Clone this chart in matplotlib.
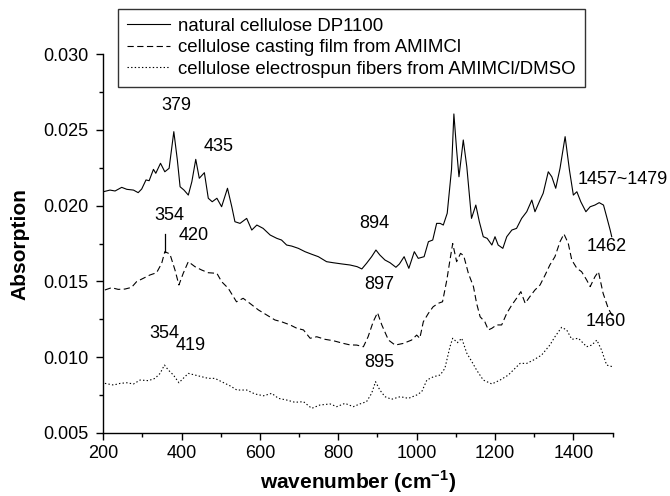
import matplotlib
matplotlib.use('Agg')
import matplotlib.pyplot as plt
from matplotlib.ticker import MultipleLocator, FormatStrFormatter

plt.rcParams['font.family'] = ['Liberation Sans', 'DejaVu Sans']
plt.rcParams['mathtext.fontset'] = 'custom'
plt.rcParams['mathtext.rm'] = 'Liberation Sans'
plt.rcParams['mathtext.bf'] = 'Liberation Sans:bold'
plt.rcParams['lines.scale_dashes'] = False

# natural cellulose DP1100
nat_x = [200, 217, 230, 247, 260, 277, 289, 298, 309, 317, 328, 334, 346, 357, 368, 380,
         389, 396, 406, 417, 426, 436, 445, 458, 468, 478, 490, 502, 517, 528, 536, 549,
         566, 579, 592, 608, 626, 643, 655, 668, 681, 698, 715, 732, 749, 770, 787, 809,
         830, 848, 860, 872, 885, 896, 906, 919, 932, 947, 956, 968, 980, 994, 1004, 1019,
         1030, 1041, 1051, 1060, 1068, 1078, 1089, 1095, 1102, 1108, 1119, 1128, 1140, 1151,
         1160, 1170, 1180, 1192, 1200, 1208, 1220, 1230, 1243, 1255, 1268, 1281, 1294, 1302,
         1315, 1323, 1336, 1345, 1355, 1366, 1379, 1390, 1400, 1409, 1419, 1432, 1443, 1455,
         1466, 1477, 1485, 1494, 1498]
nat_y = [0.02092, 0.02103, 0.02097, 0.02121, 0.02108, 0.02103, 0.02086, 0.0211, 0.0217,
         0.02165, 0.0224, 0.02214, 0.0228, 0.02224, 0.02247, 0.02489, 0.02302, 0.02125,
         0.02103, 0.0207, 0.02158, 0.02306, 0.02181, 0.02218, 0.02049, 0.02026, 0.02049,
         0.01993, 0.02115, 0.01993, 0.01894, 0.01883, 0.01916, 0.01839, 0.01872, 0.0185,
         0.01806, 0.01784, 0.01773, 0.0174, 0.01733, 0.01718, 0.01696, 0.01679, 0.01663,
         0.0163, 0.01623, 0.01615, 0.01608, 0.01597, 0.01582, 0.01619, 0.01663, 0.01707,
         0.01674, 0.01641, 0.01623, 0.01593, 0.01615, 0.01663, 0.01586, 0.01696, 0.01652,
         0.01663, 0.01762, 0.01773, 0.01883, 0.01883, 0.01872, 0.0195, 0.0224, 0.02606,
         0.02368, 0.02191, 0.02434, 0.02257, 0.01916, 0.02004, 0.01894, 0.01795, 0.01784,
         0.0174, 0.01795, 0.0174, 0.01718, 0.01795, 0.01839, 0.0185, 0.01916, 0.0196,
         0.02037, 0.0196, 0.02037, 0.02082, 0.02224, 0.02191, 0.02115, 0.02247, 0.02456,
         0.02236, 0.0207, 0.02092, 0.02026, 0.0196, 0.01993, 0.02004, 0.0202, 0.02004,
         0.01927, 0.01839, 0.01795]

# cellulose casting film from AMIMCl
film_x = [204, 221, 238, 255, 272, 285, 302, 319, 336, 349, 357, 370, 383, 393, 404, 417,
          434, 451, 468, 490, 502, 519, 540, 557, 574, 596, 617, 638, 655, 677, 694, 711,
          728, 745, 766, 787, 813, 830, 847, 864, 876, 889, 900, 911, 928, 945, 966, 987,
          1000, 1008, 1017, 1030, 1042, 1055, 1066, 1077, 1085, 1092, 1102, 1112, 1120, 1132,
          1145, 1153, 1162, 1174, 1183, 1192, 1204, 1217, 1230, 1243, 1255, 1266, 1277, 1289,
          1302, 1315, 1328, 1340, 1353, 1366, 1376, 1387, 1396, 1409, 1421, 1434, 1443, 1455,
          1464, 1476, 1489, 1500]
film_y = [0.01443, 0.01458, 0.01447, 0.01449, 0.0146, 0.01498, 0.0152, 0.01542, 0.01557,
          0.01619, 0.01696, 0.01681, 0.01575, 0.01476, 0.01553, 0.0163, 0.01597, 0.01575,
          0.01557, 0.01553, 0.01498, 0.01454, 0.01365, 0.01388, 0.01355, 0.01311, 0.01278,
          0.01245, 0.01233, 0.01212, 0.0119, 0.01179, 0.01124, 0.01134, 0.01117, 0.01108,
          0.0109, 0.0108, 0.01079, 0.01068, 0.01134, 0.01233, 0.01293, 0.01212, 0.01112,
          0.01079, 0.0109, 0.01112, 0.01145, 0.01124, 0.01233, 0.01289, 0.01332, 0.01355,
          0.01365, 0.01509, 0.01641, 0.0175, 0.0163, 0.01685, 0.0167, 0.01553, 0.01465,
          0.01355, 0.01266, 0.01233, 0.01179, 0.0119, 0.01212, 0.01212, 0.01289, 0.01344,
          0.01388, 0.01432, 0.01355, 0.01399, 0.01443, 0.01476, 0.01542, 0.01608, 0.01663,
          0.01762, 0.01813, 0.01751, 0.01641, 0.01586, 0.01564, 0.01509, 0.01465, 0.0153,
          0.01564, 0.01421, 0.01322, 0.0127]

# cellulose electrospun fibers from AMIMCl/DMSO
fiber_x = [204, 226, 243, 260, 277, 294, 315, 332, 345, 356, 366, 379, 393, 404, 417, 434,
           451, 468, 485, 502, 524, 541, 566, 587, 609, 630, 647, 668, 689, 711, 732, 753,
           779, 796, 817, 838, 855, 872, 885, 895, 906, 919, 936, 958, 979, 1000, 1013, 1026,
           1043, 1060, 1072, 1085, 1092, 1104, 1115, 1128, 1141, 1153, 1170, 1192, 1213, 1234,
           1251, 1264, 1281, 1298, 1319, 1340, 1353, 1370, 1383, 1396, 1413, 1434, 1447, 1460,
           1472, 1485, 1500]
fiber_y = [0.00826, 0.00815, 0.00826, 0.0083, 0.00822, 0.00848, 0.00844, 0.00859, 0.00892,
           0.00947, 0.00914, 0.00881, 0.0083, 0.00859, 0.00892, 0.00881, 0.0087, 0.00859,
           0.00859, 0.00837, 0.00809, 0.00782, 0.00782, 0.00756, 0.00744, 0.0076, 0.00727,
           0.00716, 0.00701, 0.00705, 0.00661, 0.00683, 0.0069, 0.00672, 0.00694, 0.00672,
           0.0069, 0.00705, 0.0076, 0.00837, 0.00782, 0.00738, 0.00721, 0.00738, 0.00727,
           0.00749, 0.00771, 0.00848, 0.0087, 0.00881, 0.00925, 0.01068, 0.01124, 0.01095,
           0.01124, 0.01025, 0.00969, 0.00914, 0.00848, 0.00822, 0.00848, 0.00881, 0.00925,
           0.00958, 0.00958, 0.0098, 0.01013, 0.01079, 0.01134, 0.01196, 0.01179, 0.01117,
           0.01124, 0.01068, 0.01079, 0.01112, 0.01046, 0.00947, 0.00936]

labels = ['natural cellulose DP1100',
          'cellulose casting film from AMIMCl',
          'cellulose electrospun fibers from AMIMCl/DMSO']

# peak labels: text, x, y, horizontal alignment
peaks = [('379', 387, 0.02665, 'center'), ('435', 494, 0.0239, 'center'),
         ('354', 368, 0.01932, 'center'), ('420', 430, 0.01806, 'center'),
         ('894', 892, 0.01879, 'center'), ('897', 904, 0.01482, 'center'),
         ('1457~1479', 1410, 0.0217, 'left'), ('1462', 1434, 0.01733, 'left'),
         ('1460', 1432, 0.01238, 'left'), ('354', 357, 0.01157, 'center'),
         ('419', 423, 0.01075, 'center'), ('895', 904, 0.00965, 'center')]

fig = plt.figure(figsize=(6.7, 4.96), dpi=100)
ax = fig.add_axes([0.1542, 0.1276, 0.76, 0.7629])

lw = 0.8
l1, = ax.plot(nat_x, nat_y, color='black', lw=lw, linestyle='-')
l2, = ax.plot(film_x, film_y, color='black', lw=lw, linestyle=(0, (4.5, 2.5)))
l3, = ax.plot(fiber_x, fiber_y, color='black', lw=lw, linestyle=(0, (1.0, 1.6)))

for txt, tx, ty, ha in peaks:
    ax.text(tx, ty, txt, fontsize=13, ha=ha, va='center')
ax.plot([357, 357], [0.01696, 0.01813], color='black', lw=0.9)

ax.set_xlim(200, 1500)
ax.set_ylim(0.005, 0.030)
ax.xaxis.set_major_locator(MultipleLocator(200))
ax.xaxis.set_minor_locator(MultipleLocator(100))
ax.yaxis.set_major_locator(MultipleLocator(0.005))
ax.yaxis.set_minor_locator(MultipleLocator(0.0025))
ax.yaxis.set_major_formatter(FormatStrFormatter('%.3f'))
ax.spines['top'].set_visible(False)
ax.spines['right'].set_visible(False)
for s in ['left', 'bottom']:
    ax.spines[s].set_linewidth(1.0)
ax.tick_params(which='major', length=5, width=1.0, direction='out', labelsize=13)
ax.tick_params(which='minor', length=2.7, width=1.0, direction='out')
ax.tick_params(axis='x', which='major', pad=4)
ax.tick_params(axis='y', which='major', pad=5.5)

fig.text(19.5 / 670, 1 - 244 / 496, 'Absorption', rotation=90, fontsize=15,
         fontweight='bold', ha='center', va='center')
fig.text(358 / 670, 1 - 482 / 496, r'wavenumber (cm$^{\mathbf{-1}}$)', fontsize=15,
         fontweight='bold', ha='center', va='center')

leg = fig.legend([l1, l2, l3], labels, loc='upper left',
                 bbox_to_anchor=(118 / 670, 1 - 9 / 496), borderaxespad=0,
                 fontsize=13.4, frameon=True, fancybox=False, handlelength=2.3,
                 handletextpad=0.45, labelspacing=0.24, borderpad=0.48)
leg.get_frame().set_edgecolor('black')
leg.get_frame().set_linewidth(1.0)

plt.savefig('out.png', dpi=100)
